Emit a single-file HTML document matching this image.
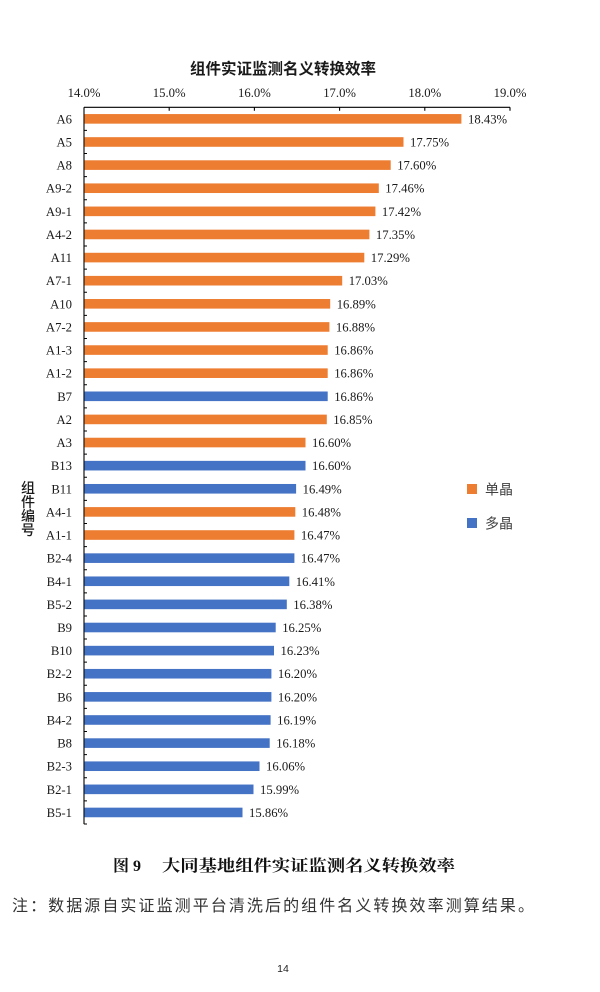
<!DOCTYPE html>
<html><head><meta charset="utf-8"><style>
html,body{margin:0;padding:0;background:#fff;}
svg{display:block;}
.cat{font-family:"Liberation Serif","Noto Serif CJK SC",serif;font-size:12.7px;fill:#1a1a1a;text-anchor:end;}
.val{font-family:"Liberation Serif","Noto Serif CJK SC",serif;font-size:12.7px;fill:#1a1a1a;}
.tick{font-family:"Liberation Serif","Noto Serif CJK SC",serif;font-size:12.7px;fill:#1a1a1a;text-anchor:middle;}
.o{fill:#ED7D31;}
.b{fill:#4472C4;}
</style></head><body>
<svg width="600" height="992" viewBox="0 0 600 992" xmlns="http://www.w3.org/2000/svg">
<rect width="600" height="992" fill="#fff"/>
<text x="283" y="74" text-anchor="middle" style="font-family:'Liberation Sans','Noto Sans CJK SC',sans-serif;font-size:15.5px;font-weight:bold;fill:#1a1a1a">组件实证监测名义转换效率</text>
<text class="tick" x="84" y="97">14.0%</text>
<text class="tick" x="169.2" y="97">15.0%</text>
<text class="tick" x="254.4" y="97">16.0%</text>
<text class="tick" x="339.6" y="97">17.0%</text>
<text class="tick" x="424.8" y="97">18.0%</text>
<text class="tick" x="510" y="97">19.0%</text>
<path d="M84 107.3H510M84 107.3V824.1M169.2 107.3v3.5M254.4 107.3v3.5M339.6 107.3v3.5M424.8 107.3v3.5M510 107.3v3.5" stroke="#000" stroke-width="1.1" fill="none"/>
<path d="M84 130.42h3M84 153.54h3M84 176.66h3M84 199.78h3M84 222.9h3M84 246.02h3M84 269.14h3M84 292.26h3M84 315.38h3M84 338.5h3M84 361.62h3M84 384.74h3M84 407.86h3M84 430.98h3M84 454.1h3M84 477.22h3M84 500.34h3M84 523.46h3M84 546.58h3M84 569.7h3M84 592.82h3M84 615.94h3M84 639.06h3M84 662.18h3M84 685.3h3M84 708.42h3M84 731.54h3M84 754.66h3M84 777.78h3M84 800.9h3M84 824.02h3" stroke="#000" stroke-width="1" fill="none"/>

<g transform="translate(0,118.86)"><rect class="o" x="84.5" y="-4.8" width="376.9" height="9.6"/><text class="cat" x="72" y="4.5">A6</text><text class="val" x="468" y="4.5">18.43%</text></g>
<g transform="translate(0,141.98)"><rect class="o" x="84.5" y="-4.8" width="319" height="9.6"/><text class="cat" x="72" y="4.5">A5</text><text class="val" x="410" y="4.5">17.75%</text></g>
<g transform="translate(0,165.10)"><rect class="o" x="84.5" y="-4.8" width="306.2" height="9.6"/><text class="cat" x="72" y="4.5">A8</text><text class="val" x="397.2" y="4.5">17.60%</text></g>
<g transform="translate(0,188.22)"><rect class="o" x="84.5" y="-4.8" width="294.3" height="9.6"/><text class="cat" x="72" y="4.5">A9-2</text><text class="val" x="385.3" y="4.5">17.46%</text></g>
<g transform="translate(0,211.34)"><rect class="o" x="84.5" y="-4.8" width="290.9" height="9.6"/><text class="cat" x="72" y="4.5">A9-1</text><text class="val" x="381.9" y="4.5">17.42%</text></g>
<g transform="translate(0,234.46)"><rect class="o" x="84.5" y="-4.8" width="284.9" height="9.6"/><text class="cat" x="72" y="4.5">A4-2</text><text class="val" x="375.9" y="4.5">17.35%</text></g>
<g transform="translate(0,257.58)"><rect class="o" x="84.5" y="-4.8" width="279.8" height="9.6"/><text class="cat" x="72" y="4.5">A11</text><text class="val" x="370.8" y="4.5">17.29%</text></g>
<g transform="translate(0,280.70)"><rect class="o" x="84.5" y="-4.8" width="257.7" height="9.6"/><text class="cat" x="72" y="4.5">A7-1</text><text class="val" x="348.7" y="4.5">17.03%</text></g>
<g transform="translate(0,303.82)"><rect class="o" x="84.5" y="-4.8" width="245.7" height="9.6"/><text class="cat" x="72" y="4.5">A10</text><text class="val" x="336.7" y="4.5">16.89%</text></g>
<g transform="translate(0,326.94)"><rect class="o" x="84.5" y="-4.8" width="244.9" height="9.6"/><text class="cat" x="72" y="4.5">A7-2</text><text class="val" x="335.9" y="4.5">16.88%</text></g>
<g transform="translate(0,350.06)"><rect class="o" x="84.5" y="-4.8" width="243.2" height="9.6"/><text class="cat" x="72" y="4.5">A1-3</text><text class="val" x="334.2" y="4.5">16.86%</text></g>
<g transform="translate(0,373.18)"><rect class="o" x="84.5" y="-4.8" width="243.2" height="9.6"/><text class="cat" x="72" y="4.5">A1-2</text><text class="val" x="334.2" y="4.5">16.86%</text></g>
<g transform="translate(0,396.30)"><rect class="b" x="84.5" y="-4.8" width="243.2" height="9.6"/><text class="cat" x="72" y="4.5">B7</text><text class="val" x="334.2" y="4.5">16.86%</text></g>
<g transform="translate(0,419.42)"><rect class="o" x="84.5" y="-4.8" width="242.3" height="9.6"/><text class="cat" x="72" y="4.5">A2</text><text class="val" x="333.3" y="4.5">16.85%</text></g>
<g transform="translate(0,442.54)"><rect class="o" x="84.5" y="-4.8" width="221" height="9.6"/><text class="cat" x="72" y="4.5">A3</text><text class="val" x="312" y="4.5">16.60%</text></g>
<g transform="translate(0,465.66)"><rect class="b" x="84.5" y="-4.8" width="221" height="9.6"/><text class="cat" x="72" y="4.5">B13</text><text class="val" x="312" y="4.5">16.60%</text></g>
<g transform="translate(0,488.78)"><rect class="b" x="84.5" y="-4.8" width="211.6" height="9.6"/><text class="cat" x="72" y="4.5">B11</text><text class="val" x="302.6" y="4.5">16.49%</text></g>
<g transform="translate(0,511.90)"><rect class="o" x="84.5" y="-4.8" width="210.8" height="9.6"/><text class="cat" x="72" y="4.5">A4-1</text><text class="val" x="301.8" y="4.5">16.48%</text></g>
<g transform="translate(0,535.02)"><rect class="o" x="84.5" y="-4.8" width="209.9" height="9.6"/><text class="cat" x="72" y="4.5">A1-1</text><text class="val" x="300.9" y="4.5">16.47%</text></g>
<g transform="translate(0,558.14)"><rect class="b" x="84.5" y="-4.8" width="209.9" height="9.6"/><text class="cat" x="72" y="4.5">B2-4</text><text class="val" x="300.9" y="4.5">16.47%</text></g>
<g transform="translate(0,581.26)"><rect class="b" x="84.5" y="-4.8" width="204.8" height="9.6"/><text class="cat" x="72" y="4.5">B4-1</text><text class="val" x="295.8" y="4.5">16.41%</text></g>
<g transform="translate(0,604.38)"><rect class="b" x="84.5" y="-4.8" width="202.3" height="9.6"/><text class="cat" x="72" y="4.5">B5-2</text><text class="val" x="293.3" y="4.5">16.38%</text></g>
<g transform="translate(0,627.50)"><rect class="b" x="84.5" y="-4.8" width="191.2" height="9.6"/><text class="cat" x="72" y="4.5">B9</text><text class="val" x="282.2" y="4.5">16.25%</text></g>
<g transform="translate(0,650.62)"><rect class="b" x="84.5" y="-4.8" width="189.5" height="9.6"/><text class="cat" x="72" y="4.5">B10</text><text class="val" x="280.5" y="4.5">16.23%</text></g>
<g transform="translate(0,673.74)"><rect class="b" x="84.5" y="-4.8" width="186.9" height="9.6"/><text class="cat" x="72" y="4.5">B2-2</text><text class="val" x="277.9" y="4.5">16.20%</text></g>
<g transform="translate(0,696.86)"><rect class="b" x="84.5" y="-4.8" width="186.9" height="9.6"/><text class="cat" x="72" y="4.5">B6</text><text class="val" x="277.9" y="4.5">16.20%</text></g>
<g transform="translate(0,719.98)"><rect class="b" x="84.5" y="-4.8" width="186.1" height="9.6"/><text class="cat" x="72" y="4.5">B4-2</text><text class="val" x="277.1" y="4.5">16.19%</text></g>
<g transform="translate(0,743.10)"><rect class="b" x="84.5" y="-4.8" width="185.2" height="9.6"/><text class="cat" x="72" y="4.5">B8</text><text class="val" x="276.2" y="4.5">16.18%</text></g>
<g transform="translate(0,766.22)"><rect class="b" x="84.5" y="-4.8" width="175" height="9.6"/><text class="cat" x="72" y="4.5">B2-3</text><text class="val" x="266" y="4.5">16.06%</text></g>
<g transform="translate(0,789.34)"><rect class="b" x="84.5" y="-4.8" width="169" height="9.6"/><text class="cat" x="72" y="4.5">B2-1</text><text class="val" x="260" y="4.5">15.99%</text></g>
<g transform="translate(0,812.46)"><rect class="b" x="84.5" y="-4.8" width="158" height="9.6"/><text class="cat" x="72" y="4.5">B5-1</text><text class="val" x="249" y="4.5">15.86%</text></g>

<g style="font-family:'Liberation Sans','Noto Sans CJK SC',sans-serif;font-size:14px;font-weight:500;fill:#1a1a1a" text-anchor="middle">
<text x="28" y="493">组</text>
<text x="28" y="507">件</text>
<text x="28" y="521">编</text>
<text x="28" y="535">号</text>
</g>

<rect x="467" y="484" width="10" height="10" fill="#ED7D31"/>
<rect x="467" y="518" width="10" height="10" fill="#4472C4"/>
<text x="485" y="494.5" style="font-family:'Liberation Sans','Noto Sans CJK SC',sans-serif;font-size:14px;fill:#404040">单晶</text>
<text x="485" y="528.5" style="font-family:'Liberation Sans','Noto Sans CJK SC',sans-serif;font-size:14px;fill:#404040">多晶</text>

<text x="113" y="871" style="font-family:'Liberation Serif','Noto Serif CJK SC',serif;font-size:16px;font-weight:bold;fill:#111">图 9</text>
<text x="162" y="871" textLength="293" lengthAdjust="spacingAndGlyphs" style="font-family:'Liberation Serif','Noto Serif CJK SC',serif;font-size:16px;font-weight:bold;fill:#111">大同基地组件实证监测名义转换效率</text>

<text x="12" y="911" textLength="522" lengthAdjust="spacing" style="font-family:'Liberation Sans','Noto Sans CJK SC',sans-serif;font-size:16px;fill:#333">注：数据源自实证监测平台清洗后的组件名义转换效率测算结果。</text>

<text x="283" y="972" text-anchor="middle" style="font-family:'Liberation Sans',sans-serif;font-size:10.5px;fill:#222">14</text>
</svg>
</body></html>
